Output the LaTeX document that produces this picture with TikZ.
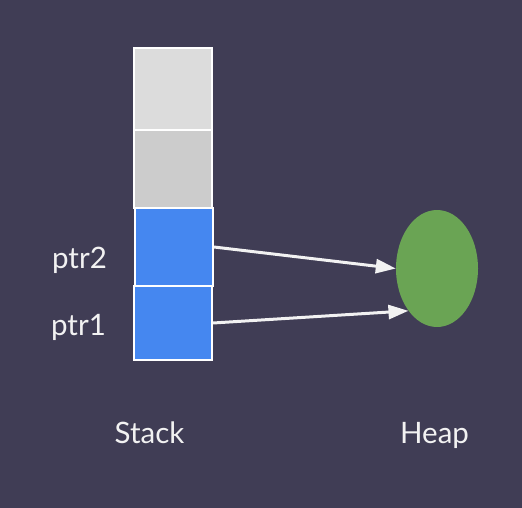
\documentclass[tikz,border=0pt]{standalone}
\usepackage{fontspec}
\setmainfont{Lato}
\usetikzlibrary{arrows.meta}
\usetikzlibrary{shapes.geometric}

\definecolor{bgcol}{HTML}{403D55}
\definecolor{cellgray}{HTML}{DCDCDC}
\definecolor{cellgrey}{HTML}{CCCCCC}
\definecolor{cellblue}{HTML}{4587F0}
\definecolor{heapgreen}{HTML}{6AA454}
\definecolor{inkwhite}{HTML}{F2F2F2}

\tikzset{
  cell/.style={draw=white, line width=2pt, minimum width=78pt, inner sep=0pt},
  lbl/.style={text=inkwhite, anchor=base, font=\fontsize{29.5}{34}\selectfont},
  ptrarrow/.style={draw=inkwhite, line width=3pt, -{Triangle[length=20pt,width=14pt]}}
}

\begin{document}
\begin{tikzpicture}[x=1pt, y=-1pt]
      \fill[bgcol] (0,0) rectangle (522,508);
      \useasboundingbox (0,0) rectangle (522,508);

      \node[cell, fill=cellgray, minimum height=82pt] (top) at (173,89) {};
      \node[cell, fill=cellgrey, minimum height=78pt] (mid) at (173,169) {};
      \node[cell, fill=cellblue, minimum height=78pt] (ptrb) at (174,247) {};
      \node[cell, fill=cellblue, minimum height=74pt] (ptra) at (173,323) {};

      \node[ellipse, fill=heapgreen, minimum width=82pt, minimum height=117pt, inner sep=0pt] (heap) at (437,268.5) {};

      \node[lbl] (lptrb) at (79.5,268) {ptr2};
      \node[lbl] (lptra) at (78.5,335) {ptr1};
      \node[lbl] (lstack) at (149.5,443) {Stack};
      \node[lbl] (lheap) at (434.5,443) {Heap};

      \draw[ptrarrow] (ptrb.east) -- (heap.west);
      \draw[ptrarrow] (ptra.east) -- (heap.236);
\end{tikzpicture}
\end{document}
